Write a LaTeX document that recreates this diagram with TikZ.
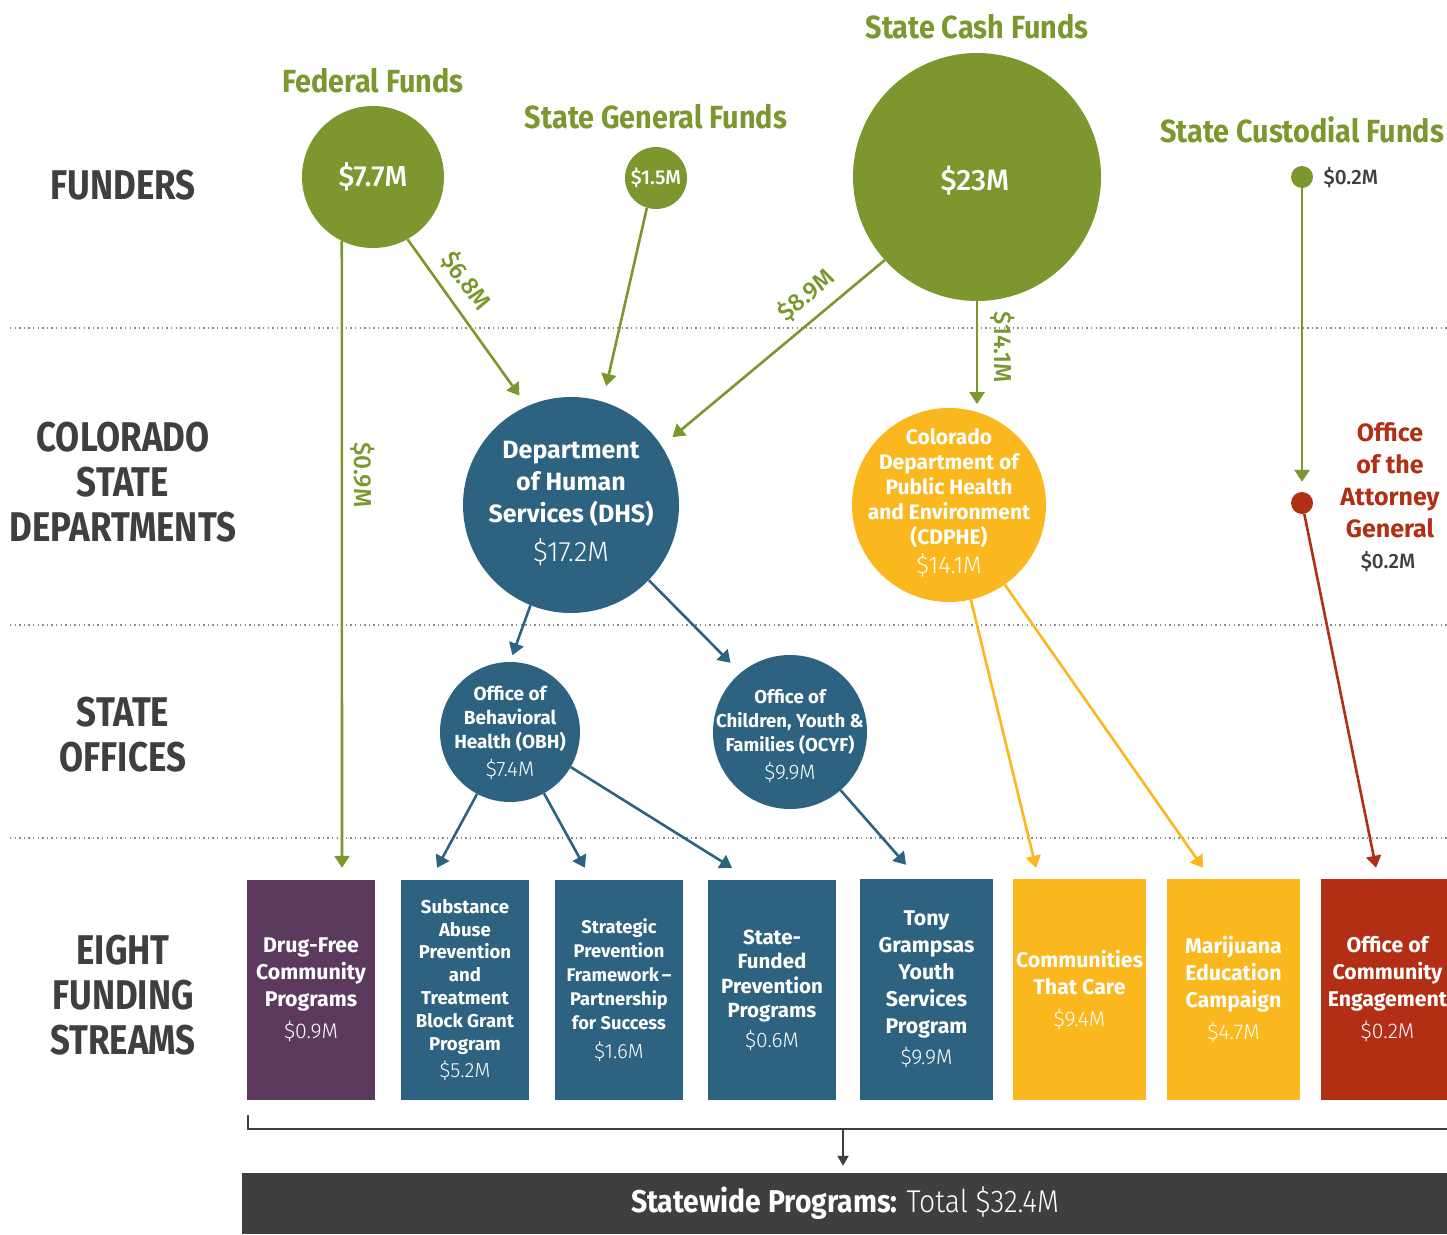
\documentclass[tikz,border=0pt]{standalone}
\usepackage{fontspec}
\setmainfont{Fira Sans}
\newfontfamily\condf{Fira Sans}[FakeStretch=0.84]
\newfontfamily\titlef{Fira Sans}[FakeStretch=0.9]
\newfontfamily\lightf{Fira Sans Light}
\newfontfamily\lightcf{Fira Sans Light}[FakeStretch=0.9]
\newfontfamily\medf{Fira Sans Medium}
\usetikzlibrary{arrows.meta}
\definecolor{fgreen}{HTML}{7B972D}
\definecolor{fblue}{HTML}{2D6380}
\definecolor{fyellow}{HTML}{FBB81E}
\definecolor{fred}{HTML}{B22E14}
\definecolor{fpurple}{HTML}{5C3A5E}
\definecolor{fdark}{HTML}{3F3F3F}
\definecolor{fdot}{HTML}{8A8A8A}
\newcommand\amt{\lightf\mdseries}
\begin{document}
\begin{tikzpicture}[x=1pt,y=-1pt,
  circ/.style={circle, inner sep=0pt, text=white, align=center},
  ctext/.style={inner sep=0pt, text=white, align=center},
  fbox/.style={rectangle, inner sep=0pt, text=white, align=center, minimum height=220pt},
  rowlab/.style={text=fdark, align=center, font=\fontsize{41.5}{45}\selectfont\condf\bfseries},
  fundlab/.style={text=fgreen, font=\fontsize{32}{36}\selectfont\titlef\bfseries},
  flowlab/.style={text=fgreen, font=\fontsize{24.5}{28}\selectfont\medf},
  dotline/.style={fdot, line width=1.4pt, dash pattern=on 1.4pt off 3.2pt},
  flow/.style={line width=2.6pt, -{Triangle[width=15pt,length=12pt]}},
  gflow/.style={flow, fgreen},
  bflow/.style={flow, fblue},
  yflow/.style={flow, fyellow},
  rflow/.style={flow, fred},
  boxfont/.style={font=\fontsize{21.3}{27}\selectfont\bfseries}
]
\useasboundingbox (0,0) rectangle (1447,1234);
\fill[white] (0,0) rectangle (1447,1234);

% dotted separators
\draw[dotline] (10,328) -- (1447,328);
\draw[dotline] (10,625) -- (1447,625);
\draw[dotline] (10,838) -- (1447,838);

% row labels
\node[rowlab] (lfund) at (123,185) {FUNDERS};
\node[rowlab] (ldept) at (123,482) {COLORADO\\STATE\\DEPARTMENTS};
\node[rowlab] (loff) at (123,735) {STATE\\OFFICES};
\node[rowlab] (lstream) at (123,995) {EIGHT\\FUNDING\\STREAMS};

% funders
\node[fundlab] (tfed) at (373,81) {Federal Funds};
\node[fundlab] (tgen) at (656,117) {State General Funds};
\node[fundlab] (tcash) at (977,27) {State Cash Funds};
\node[fundlab] (tcust) at (1302,130) {State Custodial Funds};

\node[circ, fill=fgreen, minimum size=142pt, font=\fontsize{29}{34}\selectfont\medf] (fed) at (373,177) {\$7.7M};
\node[circ, fill=fgreen, minimum size=62pt, font=\fontsize{20}{24}\selectfont\medf] (gen) at (656,178) {\$1.5M};
\node[circ, fill=fgreen, minimum size=248pt] (cash) at (977,177) {};
\node[ctext, font=\fontsize{29.5}{34}\selectfont\medf] (cashT) at (975,181) {\$23M};
\node[circle, fill=fgreen, minimum size=22pt, inner sep=0pt] (cust) at (1302,177) {};
\node[text=fdark, font=\fontsize{20.7}{24}\selectfont\medf, anchor=west] (tcustamt) at (1320,178) {\$0.2M};

% departments
\node[circ, fill=fblue, minimum size=216pt] (dhs) at (571,505) {};
\node[ctext, font=\fontsize{25}{32}\selectfont\bfseries] (dhsT) at (571,503)
  {Department\\of Human\\Services (DHS)\\[7pt]{\amt\fontsize{28}{32}\selectfont \$17.2M}};
\node[circ, fill=fyellow, minimum size=194pt] (cdphe) at (949,505) {};
\node[ctext, font=\fontsize{21}{25}\selectfont\bfseries] (cdpheT) at (949,503)
  {Colorado\\Department of\\Public Health\\and Environment\\(CDPHE)\\[4pt]{\amt\fontsize{24}{27}\selectfont \$14.1M}};
\node[circle, fill=fred, minimum size=22pt, inner sep=0pt] (ag) at (1302,503) {};
\node[text=fred, align=center, font=\fontsize{25}{32}\selectfont\bfseries] (tag) at (1390,480)
  {Office\\of the\\Attorney\\General};
\node[text=fdark, font=\fontsize{20.7}{24}\selectfont\medf] (tagamt) at (1388,562) {\$0.2M};

% offices
\node[circ, fill=fblue, minimum size=140pt] (obh) at (510,732) {};
\node[ctext, font=\fontsize{19}{24}\selectfont\bfseries] (obhT) at (510,733)
  {Office of\\Behavioral\\Health (OBH)\\[4pt]{\amt\fontsize{21}{24}\selectfont \$7.4M}};
\node[circ, fill=fblue, minimum size=154pt] (ocyf) at (790,732) {};
\node[ctext, font=\fontsize{18.6}{24}\selectfont\bfseries] (ocyfT) at (790,736)
  {Office of\\Children, Youth \&\\Families (OCYF)\\[4pt]{\amt\fontsize{21}{24}\selectfont \$9.9M}};

% funding streams
\node[fbox, fill=fpurple, minimum width=128pt, boxfont] (dfree) at (311,990)
  {Drug-Free\\Community\\Programs\\[5pt]{\amt \$0.9M}};
\node[fbox, fill=fblue, minimum width=128pt, font=\fontsize{18.6}{22.8}\selectfont\bfseries] (sapt) at (465,990)
  {Substance\\Abuse\\Prevention\\and\\Treatment\\Block Grant\\Program\\[5pt]{\amt\fontsize{20.5}{24}\selectfont \$5.2M}};
\node[fbox, fill=fblue, minimum width=128pt, font=\fontsize{18.3}{24}\selectfont\bfseries] (spf) at (619,990)
  {Strategic\\Prevention\\Framework\,--\\Partnership\\for Success\\[5pt]{\amt\fontsize{20.5}{24}\selectfont \$1.6M}};
\node[fbox, fill=fblue, minimum width=128pt, font=\fontsize{20.5}{24.5}\selectfont\bfseries] (sfp) at (772,990)
  {State-\\Funded\\Prevention\\Programs\\[5pt]{\amt\fontsize{21}{24}\selectfont \$0.6M}};
\node[fbox, fill=fblue, minimum width=133pt, minimum height=221pt, boxfont] (tony) at (926.5,989.5)
  {Tony\\Grampsas\\Youth\\Services\\Program\\[4pt]{\amt \$9.9M}};
\node[fbox, fill=fyellow, minimum width=133pt, minimum height=221pt, boxfont] (ctc) at (1079.5,989.5)
  {Communities\\That Care\\[5pt]{\amt \$9.4M}};
\node[fbox, fill=fyellow, minimum width=133pt, minimum height=221pt, boxfont] (mec) at (1233.5,989.5)
  {Marijuana\\Education\\Campaign\\[5pt]{\amt \$4.7M}};
\node[fbox, fill=fred, minimum width=133pt, minimum height=221pt, boxfont] (oce) at (1387.5,989.5)
  {Office of\\Community\\Engagement\\[5pt]{\amt \$0.2M}};

% total bar
\node[rectangle, fill=fdark, minimum width=1220pt, minimum height=61pt, inner sep=0pt] (bar) at (852,1203.5) {};
\node[text=white, font=\fontsize{31.5}{36}\selectfont\titlef] (tbar) at (845,1203)
  {\bfseries Statewide Programs: {\lightcf\mdseries Total \$32.4M}};

% bracket
\coordinate (brk) at (843,1129);
\draw[fdark, line width=2pt] (248,1115) -- (248,1129) -- (1460,1129);
\draw[fdark, line width=2pt, -{Triangle[width=11pt,length=10pt]}, shorten >=7pt] (brk) -- (brk |- bar.north);

% green flows
\draw[gflow] (fed.-116) -- ([xshift=31pt,yshift=12pt]dfree.north);
\draw[gflow, shorten >=13pt] (fed.-61) -- (dhs.114);
\draw[gflow, shorten >=16pt] (gen.-107) -- (dhs.73);
\draw[gflow, shorten >=14pt] (cash.-138) -- (dhs.33);
\draw[gflow, shorten >=8pt] (cash.south) -- (cash.south |- cdphe.73);
\draw[gflow, shorten >=10pt] (cust.south) -- (ag.north);

% flow labels
\node[flowlab, rotate=-90] (l09) at (363,475) {\$0.9M};
\node[flowlab, rotate=-53.7] (l68) at (466,281) {\$6.8M};
\node[flowlab, rotate=40.3] (l89) at (806,295) {\$8.9M};
\node[flowlab, rotate=-90] (l141) at (1003,347) {\$14.1M};

% blue flows
\draw[bflow, shorten >=7pt] (dhs.-112) -- (obh.north);
\draw[bflow, shorten >=14pt] (dhs.-44) -- (ocyf.130);
\draw[bflow] (obh.-118) -- ([xshift=-28pt,yshift=12pt]sapt.north);
\draw[bflow] (obh.-61) -- ([xshift=-34pt,yshift=12pt]spf.north);
\draw[bflow] (obh.-30.5) -- ([xshift=-40pt,yshift=12pt]sfp.north);
\draw[bflow] (ocyf.-49) -- ([xshift=-20.5pt,yshift=14pt]tony.north);

% yellow flows
\draw[yflow] (cdphe.-77) -- ([xshift=-43.5pt,yshift=11pt]ctc.north);
\draw[yflow] (cdphe.-55) -- ([xshift=-30.5pt,yshift=11pt]mec.north);

% red flow
\draw[rflow] (ag.-78) -- ([xshift=-11.5pt,yshift=11pt]oce.north);
\end{tikzpicture}
\end{document}
